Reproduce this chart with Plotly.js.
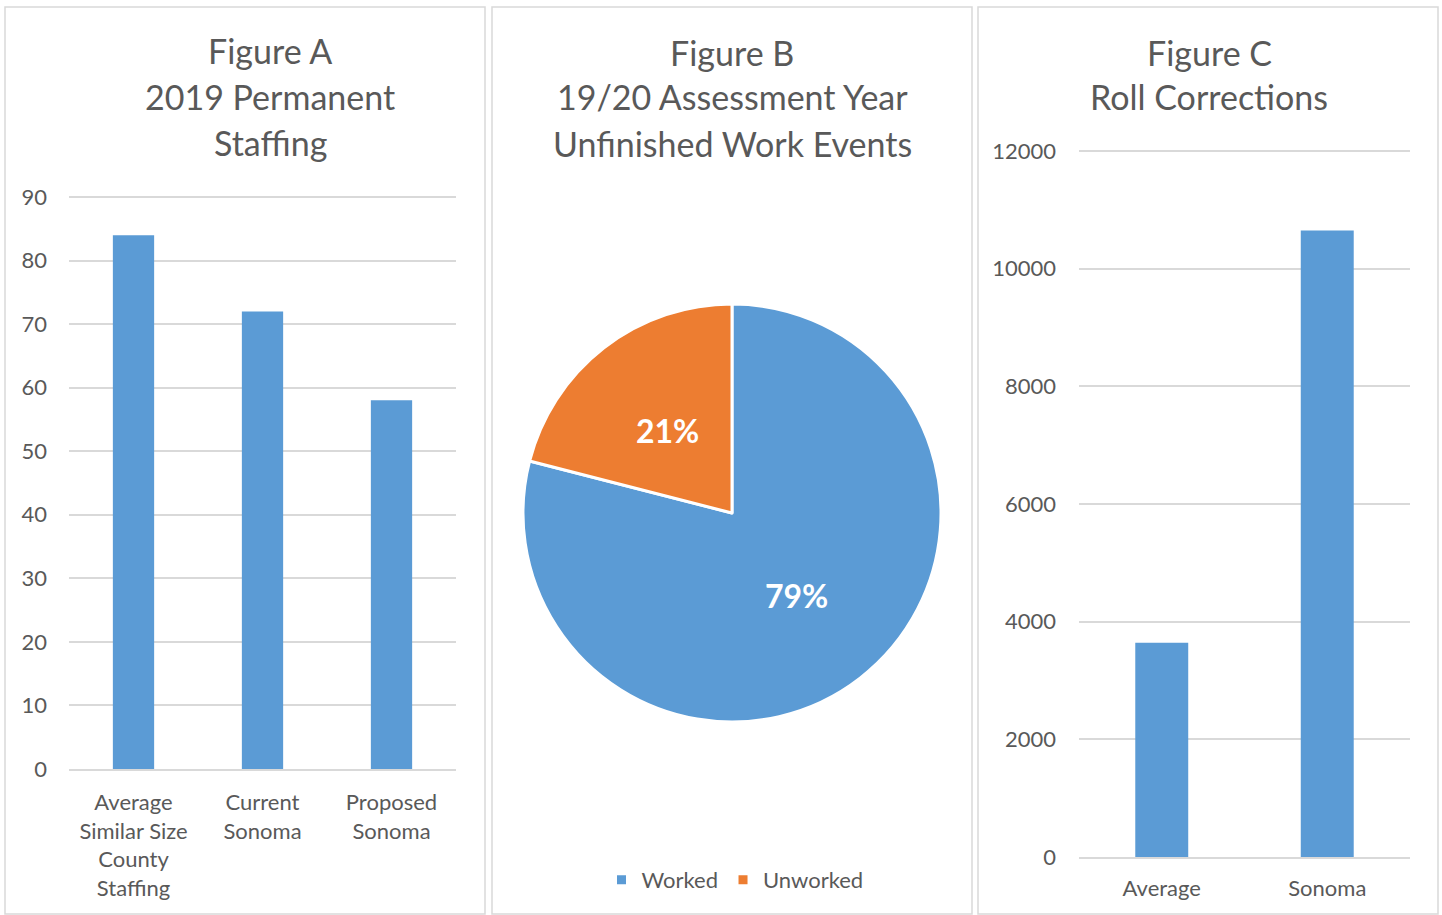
<!DOCTYPE html>
<html>
<head>
<meta charset="utf-8">
<script src="https://cdn.plot.ly/plotly-3.0.1.min.js"></script>
<style>html,body{margin:0;padding:0;background:#fff;}#chart{width:1442px;height:915px;}</style>
</head>
<body>
<div id="chart"></div>
<script>
// Figure A
const staffCategories = ["Average<br>Similar Size<br>County<br>Staffing", "Current<br>Sonoma", "Proposed<br>Sonoma"];
const staffValues = [84, 72, 58];
const staffTicks = [0, 10, 20, 30, 40, 50, 60, 70, 80, 90];
const titleA = ["Figure A", "2019 Permanent", "Staffing"];

// Figure B
const pieLabels = ["Worked", "Unworked"];
const pieValues = [79, 21];
const titleB = ["Figure B", "19/20 Assessment Year", "Unfinished Work Events"];

// Figure C
const rollCategories = ["Average", "Sonoma"];
const rollValues = [3640, 10650];
const rollTicks = [0, 2000, 4000, 6000, 8000, 10000, 12000];
const titleC = ["Figure C", "Roll Corrections"];

const FONT = "Lato, Carlito, Calibri, sans-serif";
const GREY = "#595959";
const BLUE = "#5B9BD5";
const ORANGE = "#ED7D31";
const W = 1442, H = 915;
const px = x => x / W;
const py = y => 1 - y / H;

// pie geometry (domain in pixels)
const pieX0 = 523, pieX1 = 941, pieY0 = 304, pieY1 = 722;

// bar axes: pixel of zero line, pixel of top tick; range extended a bit so the top gridline is drawn
const aZero = 769, aTop = 197, aMax = 90, aRangeMax = 93;
const cZero = 857, cTop = 151, cMax = 12000, cRangeMax = 12400;
const aTopPx = aZero - (aZero - aTop) * aRangeMax / aMax;
const cTopPx = cZero - (cZero - cTop) * cRangeMax / cMax;

const traces = [
  {
    type: "bar", x: staffCategories, y: staffValues, xaxis: "x", yaxis: "y",
    marker: {color: BLUE}, showlegend: false, hoverinfo: "x+y"
  },
  {
    type: "pie", labels: pieLabels, values: pieValues, sort: false,
    direction: "clockwise", rotation: 0,
    marker: {colors: [BLUE, ORANGE], line: {color: "#ffffff", width: 3}},
    textinfo: "none",
    domain: {x: [px(pieX0), px(pieX1)], y: [py(pieY1), py(pieY0)]},
    showlegend: true
  },
  {
    type: "bar", x: rollCategories, y: rollValues, xaxis: "x2", yaxis: "y2",
    marker: {color: BLUE}, showlegend: false, hoverinfo: "x+y"
  }
];

const axisFont = {family: FONT, size: 22, color: GREY};
const titleLine = (text, xc, yc) => ({
  text: text, x: px(xc), y: py(yc), xref: "paper", yref: "paper",
  xanchor: "center", yanchor: "middle", showarrow: false,
  font: {family: FONT, size: 34, color: GREY}
});
const titleYs = [51, 96, 142];
const annotations = [];
titleA.forEach((t, i) => annotations.push(titleLine(t, 270, titleYs[i])));
titleB.forEach((t, i) => annotations.push(titleLine(t, 732, titleYs[i] + 1)));
titleC.forEach((t, i) => annotations.push(titleLine(t, 1209, titleYs[i] + 1)));

// percentage labels: at half radius along each slice's mid-angle (clockwise from 12 o'clock)
const total = pieValues.reduce((a, b) => a + b, 0);
const cx = (pieX0 + pieX1) / 2, cy = (pieY0 + pieY1) / 2, r = (pieX1 - pieX0) / 2;
let cum = 0;
pieValues.forEach(v => {
  const mid = (cum + v / 2) / total * 2 * Math.PI;
  cum += v;
  annotations.push({
    text: Math.round(v / total * 100) + "%",
    x: px(cx + 0.5 * r * Math.sin(mid)), y: py(cy - 0.5 * r * Math.cos(mid)),
    xref: "paper", yref: "paper", xanchor: "center", yanchor: "middle", showarrow: false,
    font: {family: FONT, size: 32, color: "#ffffff", weight: "bold"}
  });
});

const panel = (x0, x1) => ({
  type: "rect", xref: "paper", yref: "paper",
  x0: px(x0), x1: px(x1), y0: py(914), y1: py(7),
  line: {color: "#d9d9d9", width: 1.5}, fillcolor: "rgba(0,0,0,0)", layer: "below"
});

const layout = {
  width: W, height: H,
  margin: {l: 0, r: 0, t: 0, b: 0},
  paper_bgcolor: "#ffffff", plot_bgcolor: "#ffffff",
  font: {family: FONT, color: GREY},
  bargap: 0.68,
  xaxis: {
    domain: [px(69), px(456)], anchor: "y", type: "category",
    showgrid: false, showline: true, linecolor: "#d9d9d9", linewidth: 1.5,
    ticks: "", tickfont: axisFont, ticklabelstandoff: 13, fixedrange: true
  },
  yaxis: {
    domain: [py(aZero), py(aTopPx)], anchor: "x", range: [0, aRangeMax],
    tickvals: staffTicks, showgrid: true, gridcolor: "#d9d9d9", gridwidth: 1.5,
    zeroline: false, showline: false, ticks: "", tickfont: axisFont,
    ticklabelstandoff: 21, fixedrange: true
  },
  xaxis2: {
    domain: [px(1079), px(1410)], anchor: "y2", type: "category",
    showgrid: false, showline: true, linecolor: "#d9d9d9", linewidth: 1.5,
    ticks: "", tickfont: axisFont, ticklabelstandoff: 11, fixedrange: true
  },
  yaxis2: {
    domain: [py(cZero), py(cTopPx)], anchor: "x2", range: [0, cRangeMax],
    tickvals: rollTicks, tickformat: "d", showgrid: true, gridcolor: "#d9d9d9", gridwidth: 1.5,
    zeroline: false, showline: false, ticks: "", tickfont: axisFont,
    ticklabelstandoff: 22, fixedrange: true
  },
  legend: {
    orientation: "h", x: px(735), xanchor: "center", y: py(880), yanchor: "middle",
    font: {family: FONT, size: 22, color: GREY}, bgcolor: "rgba(0,0,0,0)"
  },
  shapes: [panel(5, 485), panel(492, 972), panel(978, 1438)],
  annotations: annotations
};

Plotly.newPlot("chart", traces, layout, {displayModeBar: false});
</script>
</body>
</html>
